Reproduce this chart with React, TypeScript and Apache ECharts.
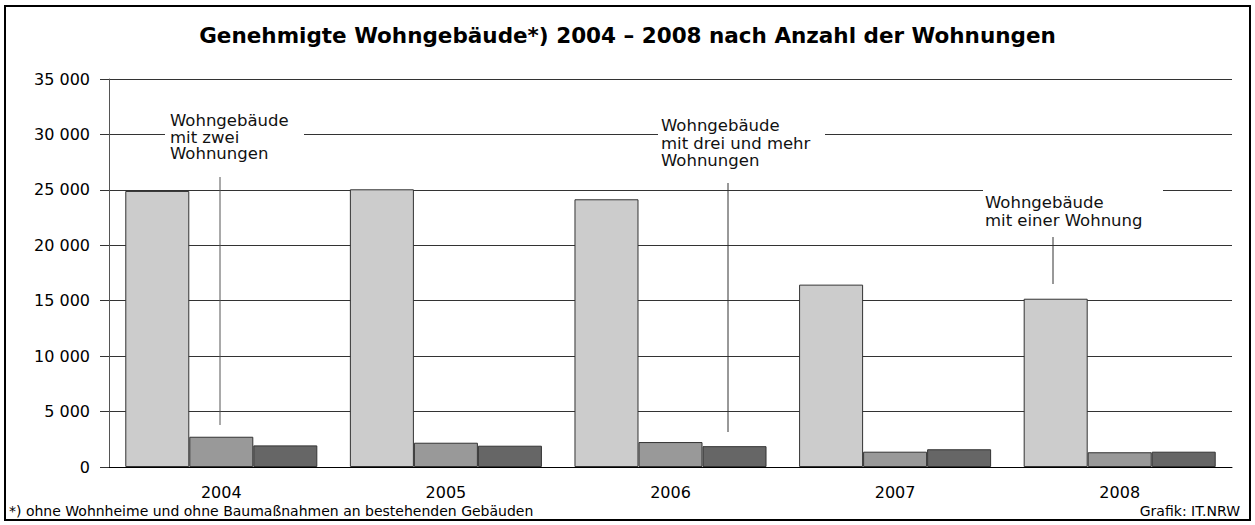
import React, { useEffect, useRef } from "react";
import * as echarts from "echarts";

const years = ["2004", "2005", "2006", "2007", "2008"];
const einerWohnung = [24900, 25050, 24150, 16450, 15180];
const zweiWohnungen = [2730, 2190, 2250, 1380, 1330];
const dreiUndMehr = [1950, 1920, 1880, 1600, 1380];
const yTicks = { min: 0, max: 35000, interval: 5000 };

const FONT = "'DejaVu Sans', sans-serif";

const fmt = (v: number) =>
  v === 0 ? "0" : String(v).replace(/\B(?=(\d{3})+(?!\d))/g, " ");

export default function App() {
  const ref = useRef<HTMLDivElement>(null);
  useEffect(() => {
    if (!ref.current) return;
    const chart = echarts.init(ref.current, null, { renderer: "svg" });
    const barStyle = (c: string) => ({ color: c, borderColor: "#333", borderWidth: 1 });
    const annoText = (x: number, y: number, text: string, lh: number) => ({
      type: "text",
      x,
      y,
      z: 20,
      style: { text, fill: "#111", font: `16.5px ${FONT}`, lineHeight: lh },
    });
    chart.setOption({
      animation: false,
      backgroundColor: "#fff",
      title: {
        text: "Genehmigte Wohngebäude*) 2004 – 2008 nach Anzahl der Wohnungen",
        left: "center",
        top: 19,
        textStyle: { fontFamily: FONT, fontSize: 21.5, fontWeight: "bold", color: "#000" },
      },
      grid: { left: 109, right: 23, top: 79, bottom: 58 },
      xAxis: {
        type: "category",
        data: years,
        axisLine: { lineStyle: { color: "#000", width: 1 } },
        axisTick: { show: false },
        axisLabel: { color: "#000", fontSize: 16, fontFamily: FONT, margin: 17 },
      },
      yAxis: {
        type: "value",
        min: yTicks.min,
        max: yTicks.max,
        interval: yTicks.interval,
        axisLine: { show: true, lineStyle: { color: "#555", width: 1 } },
        axisTick: { show: true, length: 9, lineStyle: { color: "#333" } },
        splitLine: { lineStyle: { color: "#333", width: 1 } },
        axisLabel: { color: "#000", fontSize: 16, fontFamily: FONT, margin: 19, formatter: fmt },
      },
      series: [
        { name: "Wohngebäude mit einer Wohnung", type: "bar", data: einerWohnung, barGap: "0%", barCategoryGap: "14.5%", itemStyle: barStyle("#cccccc") },
        { name: "Wohngebäude mit zwei Wohnungen", type: "bar", data: zweiWohnungen, barGap: "0%", barCategoryGap: "14.5%", itemStyle: barStyle("#999999") },
        { name: "Wohngebäude mit drei und mehr Wohnungen", type: "bar", data: dreiUndMehr, barGap: "0%", barCategoryGap: "14.5%", itemStyle: barStyle("#666666") },
      ],
      graphic: [
        { type: "rect", shape: { x: 5, y: 6, width: 1245, height: 514 }, style: { fill: "none", stroke: "#000", lineWidth: 2 }, z: 30 },
        // annotation 1
        { type: "rect", shape: { x: 165, y: 110, width: 139, height: 56 }, style: { fill: "#fff" }, z: 15 },
        annoText(170, 112, "Wohngebäude\nmit zwei\nWohnungen", 16.7),
        { type: "line", shape: { x1: 220, y1: 177, x2: 220, y2: 425 }, style: { stroke: "#555", lineWidth: 1 }, z: 16 },
        // annotation 2
        { type: "rect", shape: { x: 658, y: 116, width: 167, height: 58 }, style: { fill: "#fff" }, z: 15 },
        annoText(661, 117, "Wohngebäude\nmit drei und mehr\nWohnungen", 17.5),
        { type: "line", shape: { x1: 728, y1: 183, x2: 728, y2: 432 }, style: { stroke: "#333", lineWidth: 1 }, z: 16 },
        // annotation 3
        { type: "rect", shape: { x: 983, y: 184, width: 180, height: 48 }, style: { fill: "#fff" }, z: 15 },
        annoText(985, 193, "Wohngebäude\nmit einer Wohnung", 18),
        { type: "line", shape: { x1: 1053, y1: 237, x2: 1053, y2: 284 }, style: { stroke: "#333", lineWidth: 1 }, z: 16 },
        // footer
        { type: "text", x: 9, y: 504, style: { text: "*) ohne Wohnheime und ohne Baumaßnahmen an bestehenden Gebäuden", fill: "#000", font: `14px ${FONT}` }, z: 20 },
        { type: "text", x: 1240, y: 504, style: { text: "Grafik: IT.NRW", fill: "#000", font: `14px ${FONT}`, align: "right" }, z: 20 },
      ],
    });
    return () => chart.dispose();
  }, []);
  return (
    <div
      ref={ref}
      style={{ position: "absolute", left: 0, top: 0, width: 1255, height: 525 }}
    />
  );
}
